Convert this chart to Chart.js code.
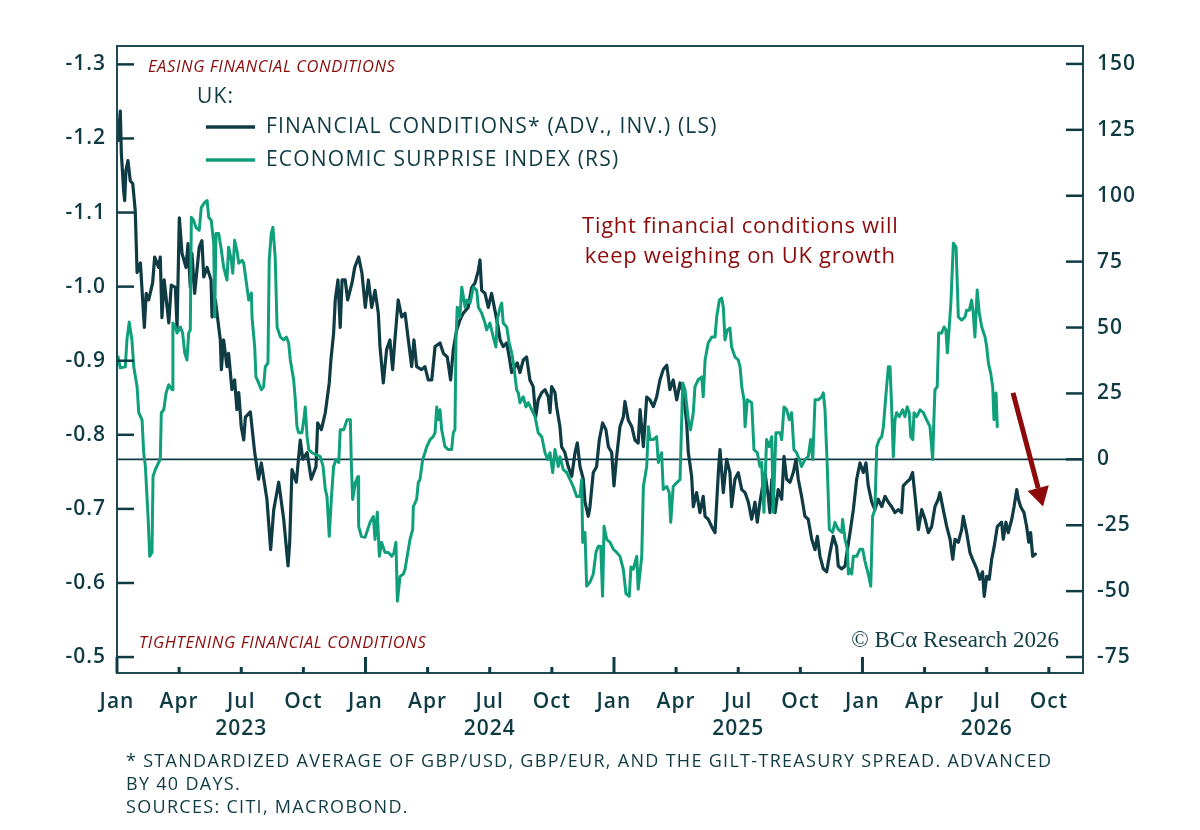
<!DOCTYPE html>
<html>
<head>
<meta charset="utf-8">
<script src="https://cdn.jsdelivr.net/npm/chart.js@4.4.1/dist/chart.umd.min.js"></script>
<style>
  html, body { margin: 0; padding: 0; background: #ffffff; }
  canvas { display: block; }
</style>
</head>
<body>
<canvas id="chart1" width="1200" height="830"></canvas>
<script>

  // x values are months counted from Jan 2023 (0 = Jan 2023)
  var fcMonths = [0.05,0.16,0.21,0.32,0.37,0.43,0.53,0.64,0.76,0.88,0.97,1.13,1.32,1.41,1.53,1.72,1.82,2.01,2.09,2.17,2.28,2.50,2.62,2.82,2.90,3.01,3.14,3.33,3.43,3.54,3.62,3.75,3.97,4.10,4.19,4.35,4.54,4.59,4.75,4.99,5.04,5.15,5.31,5.39,5.55,5.68,5.79,5.88,6.00,6.12,6.20,6.44,6.65,6.84,6.97,7.24,7.42,7.57,7.81,8.05,8.26,8.34,8.45,8.66,8.85,8.97,9.18,9.38,9.61,9.69,9.87,10.06,10.25,10.33,10.46,10.54,10.67,10.78,10.87,11.02,11.14,11.35,11.48,11.67,11.83,11.99,
    12.14,12.30,12.46,12.62,12.70,12.86,13.02,13.18,13.31,13.42,13.58,13.75,13.91,14.07,14.23,14.34,14.47,14.71,14.87,15.03,15.20,15.36,15.60,15.76,15.95,16.11,16.24,16.40,16.56,16.72,16.96,17.13,17.29,17.45,17.53,17.61,17.77,17.93,18.09,18.25,18.41,18.50,18.65,18.82,18.94,19.06,19.22,19.33,19.46,19.62,19.78,19.94,20.10,20.22,20.34,20.51,20.67,20.83,20.91,20.99,21.15,21.23,21.39,21.47,21.63,21.79,21.96,22.12,22.23,22.36,22.52,22.60,22.76,22.84,23.00,23.16,23.29,23.45,23.61,23.73,23.89,
    24.00,24.13,24.29,24.45,24.53,24.69,24.86,25.01,25.17,25.26,25.42,25.58,25.74,25.90,26.06,26.22,26.38,26.55,26.70,26.86,27.03,27.19,27.35,27.51,27.59,27.75,27.83,27.99,28.15,28.31,28.40,28.55,28.72,28.88,29.04,29.12,29.28,29.44,29.60,29.68,29.84,30.00,30.17,30.33,30.49,30.65,30.81,30.92,31.05,31.18,31.29,31.45,31.53,31.62,31.78,31.93,32.10,32.21,32.34,32.50,32.66,32.79,32.90,33.06,33.22,33.38,33.55,33.71,33.82,33.95,34.11,34.27,34.43,34.59,34.75,34.83,35.00,35.16,35.27,35.40,35.56,35.72,35.88,
    36.04,36.17,36.28,36.45,36.60,36.76,36.93,37.09,37.25,37.41,37.57,37.73,37.89,37.97,38.13,38.29,38.42,38.54,38.70,38.86,39.02,39.18,39.34,39.50,39.66,39.74,39.90,40.07,40.23,40.36,40.47,40.63,40.79,40.87,41.03,41.19,41.32,41.52,41.67,41.80,41.88,42.00,42.12,42.24,42.36,42.51,42.72,42.80,42.93,43.04,43.21,43.32,43.45,43.53,43.64,43.80,43.93,44.03,44.12,44.22,44.35]

  var fcValues = [-1.197,-1.237,-1.180,-1.130,-1.116,-1.157,-1.170,-1.143,-1.139,-1.103,-1.019,-1.032,-0.945,-0.991,-0.982,-1.005,-1.040,-1.026,-1.040,-0.958,-1.009,-0.951,-1.002,-0.999,-0.945,-1.093,-1.045,-1.026,-1.058,-0.999,-1.045,-0.991,-1.053,-1.062,-1.013,-1.026,-1.009,-0.959,-0.982,-0.928,-0.888,-0.928,-0.892,-0.910,-0.861,-0.874,-0.834,-0.857,-0.811,-0.793,-0.824,-0.831,-0.776,-0.740,-0.762,-0.713,-0.645,-0.699,-0.736,-0.686,-0.623,-0.655,-0.753,-0.736,-0.793,-0.767,-0.776,-0.740,-0.757,-0.816,-0.807,-0.830,-0.870,-0.901,-0.937,-0.982,-1.009,-0.945,-1.009,-1.009,-0.982,-1.005,-1.026,-1.040,-1.018,-0.972,
    -1.009,-0.972,-0.995,-0.964,-0.919,-0.870,-0.915,-0.928,-0.888,-0.928,-0.982,-0.959,-0.964,-0.928,-0.892,-0.928,-0.892,-0.888,-0.892,-0.874,-0.874,-0.919,-0.924,-0.910,-0.905,-0.874,-0.915,-0.941,-0.955,-0.964,-0.972,-0.999,-1.005,-1.022,-1.036,-0.995,-0.991,-0.972,-0.991,-0.968,-0.945,-0.928,-0.919,-0.924,-0.905,-0.884,-0.892,-0.897,-0.884,-0.901,-0.905,-0.874,-0.865,-0.824,-0.847,-0.857,-0.861,-0.851,-0.830,-0.865,-0.857,-0.838,-0.811,-0.784,-0.776,-0.757,-0.744,-0.776,-0.789,-0.757,-0.740,-0.709,-0.690,-0.703,-0.749,-0.757,-0.793,-0.816,-0.807,-0.784,-0.776,
    -0.731,-0.771,-0.811,-0.824,-0.845,-0.820,-0.811,-0.793,-0.789,-0.834,-0.784,-0.851,-0.847,-0.838,-0.851,-0.874,-0.888,-0.894,-0.861,-0.874,-0.847,-0.870,-0.857,-0.816,-0.776,-0.744,-0.703,-0.722,-0.695,-0.717,-0.690,-0.686,-0.676,-0.668,-0.749,-0.780,-0.722,-0.767,-0.749,-0.703,-0.740,-0.749,-0.726,-0.722,-0.709,-0.686,-0.709,-0.682,-0.709,-0.731,-0.749,-0.717,-0.695,-0.740,-0.695,-0.726,-0.713,-0.771,-0.740,-0.736,-0.749,-0.767,-0.740,-0.717,-0.690,-0.686,-0.659,-0.645,-0.663,-0.636,-0.619,-0.615,-0.641,-0.663,-0.649,-0.623,-0.619,-0.623,-0.645,-0.668,-0.699,-0.740,-0.762,
    -0.749,-0.762,-0.731,-0.709,-0.699,-0.713,-0.703,-0.717,-0.709,-0.703,-0.695,-0.699,-0.695,-0.731,-0.736,-0.740,-0.749,-0.717,-0.672,-0.699,-0.686,-0.668,-0.676,-0.703,-0.713,-0.722,-0.699,-0.676,-0.659,-0.632,-0.659,-0.655,-0.672,-0.690,-0.668,-0.641,-0.632,-0.619,-0.605,-0.615,-0.582,-0.609,-0.605,-0.632,-0.649,-0.676,-0.682,-0.659,-0.682,-0.668,-0.686,-0.703,-0.726,-0.713,-0.703,-0.695,-0.676,-0.655,-0.668,-0.636,-0.639]

  var esiMonths = [0.05,0.16,0.40,0.48,0.59,0.72,0.81,0.97,1.05,1.21,1.29,1.37,1.50,1.58,1.69,1.74,1.85,2.01,2.09,2.14,2.26,2.37,2.50,2.66,2.70,2.82,2.90,3.06,3.17,3.27,3.38,3.46,3.54,3.59,3.70,3.81,3.97,4.07,4.24,4.35,4.43,4.55,4.67,4.72,4.78,4.91,5.04,5.15,5.31,5.39,5.52,5.59,5.68,5.79,5.88,6.04,6.12,6.23,6.36,6.49,6.52,6.65,6.71,6.84,6.97,7.08,7.16,7.29,7.35,7.45,7.53,7.64,7.73,7.89,8.05,8.18,8.29,8.37,8.53,8.61,8.69,8.77,8.93,9.02,9.09,9.18,9.26,9.42,9.61,9.82,9.95,10.06,10.14,10.25,10.35,10.46,10.58,10.71,10.78,10.95,11.11,11.27,11.31,11.38,11.51,11.64,11.67,11.80,11.98,
    12.22,12.38,12.46,12.57,12.67,12.78,12.94,13.10,13.27,13.38,13.47,13.54,13.67,13.83,13.91,14.07,14.15,14.28,14.31,14.47,14.55,14.63,14.76,14.87,14.96,15.12,15.27,15.36,15.44,15.52,15.60,15.68,15.84,16.00,16.16,16.24,16.32,16.37,16.43,16.56,16.65,16.81,16.89,17.05,17.21,17.37,17.45,17.61,17.77,17.85,18.01,18.17,18.30,18.36,18.50,18.58,18.65,18.82,18.94,19.06,19.17,19.30,19.38,19.46,19.62,19.75,19.86,20.03,20.19,20.34,20.51,20.67,20.80,20.91,21.04,21.15,21.31,21.39,21.55,21.72,21.88,22.03,22.20,22.36,22.44,22.49,22.60,22.68,22.84,23.00,23.13,23.24,23.36,23.45,23.52,23.65,23.81,23.97,
    24.13,24.29,24.45,24.58,24.74,24.82,24.93,25.10,25.17,25.34,25.42,25.58,25.66,25.74,25.90,26.06,26.14,26.30,26.38,26.55,26.67,26.74,26.86,27.03,27.19,27.32,27.43,27.59,27.70,27.83,27.91,28.07,28.24,28.31,28.40,28.55,28.72,28.88,28.96,29.09,29.20,29.28,29.36,29.47,29.60,29.68,29.84,30.00,30.09,30.17,30.28,30.33,30.44,30.65,30.76,30.92,31.05,31.13,31.24,31.37,31.50,31.62,31.69,31.82,32.02,32.10,32.21,32.34,32.47,32.58,32.69,32.82,32.95,33.06,33.22,33.38,33.50,33.60,33.71,33.87,34.03,34.11,34.19,34.30,34.40,34.56,34.67,34.83,35.00,35.04,35.16,35.27,35.32,35.40,35.48,35.56,35.72,35.88,
    36.01,36.12,36.28,36.40,36.49,36.60,36.69,36.81,36.93,37.01,37.14,37.25,37.33,37.41,37.49,37.57,37.65,37.78,37.94,38.05,38.16,38.26,38.33,38.43,38.49,38.62,38.78,38.94,39.10,39.26,39.39,39.45,39.50,39.61,39.68,39.82,39.94,40.03,40.10,40.19,40.27,40.39,40.52,40.63,40.79,40.95,41.03,41.16,41.27,41.35,41.43,41.54,41.64,41.76,41.92,42.00,42.08,42.19,42.29,42.35,42.45,42.51]

  var esiValues = [38.9,34.7,35.1,45.3,52.1,45.3,35.1,27.5,17.7,15.0,2.5,-2.7,-21.7,-36.8,-35.3,-6.5,-3.9,-1.2,-0.1,17.7,18.8,25.2,28.3,26.4,51.7,50.2,47.9,50.2,47.9,40.4,37.7,47.9,49.1,91.8,90.7,88.0,86.9,95.6,97.5,98.2,91.8,90.7,82.0,54.0,85.7,85.7,79.3,72.9,68.0,80.5,75.5,70.6,83.1,79.3,74.4,75.5,74.4,68.0,60.4,63.1,54.0,42.6,31.3,29.0,26.4,27.5,35.1,36.6,75.5,85.7,88.0,76.6,50.2,46.4,45.3,46.4,44.1,37.7,30.2,22.6,12.4,10.1,10.1,15.0,19.9,8.6,3.7,2.5,1.8,1.0,-2.7,-11.4,-14.1,-29.2,-15.2,-2.7,-0.1,-1.2,11.2,11.2,15.0,15.0,-0.1,-15.2,-8.8,-6.5,-25.4,-29.2,-29.6,
    -23.9,-21.7,-30.4,-20.1,-36.8,-31.5,-35.3,-35.3,-36.8,-35.3,-31.5,-53.8,-44.4,-43.5,-41.7,-34.1,-30.4,-26.6,-17.9,-15.2,-8.8,-7.7,-0.1,2.5,4.8,7.5,8.6,10.1,19.9,15.0,18.8,11.2,4.8,3.7,3.7,10.1,11.2,45.3,57.7,54.0,65.3,57.7,60.4,59.3,65.3,64.2,57.7,55.5,51.7,49.1,51.7,46.4,42.6,52.8,57.7,59.3,51.7,50.2,44.1,40.4,35.1,26.4,25.2,21.5,23.7,19.9,21.5,18.8,16.2,10.1,8.6,2.5,-0.1,2.5,-5.0,3.7,-2.7,1.0,-3.9,-5.0,-7.7,-10.3,-14.1,-14.1,-7.7,-31.5,-27.7,-48.1,-46.6,-43.5,-35.3,-33.0,-33.0,-51.9,-25.4,-30.4,-31.5,-34.1,
    -35.3,-36.8,-41.7,-51.0,-51.9,-40.8,-41.7,-36.8,-49.3,-36.8,-10.3,-2.7,12.4,7.5,7.5,8.6,-1.2,2.5,-11.4,-10.3,-12.6,-23.9,-10.3,-8.8,-7.7,29.0,26.4,15.0,11.2,17.7,27.5,30.2,31.3,23.7,37.7,44.1,46.4,46.4,54.0,60.4,61.2,57.7,45.3,49.1,49.8,42.6,38.9,37.7,35.1,27.5,22.6,12.4,22.6,21.5,3.7,2.5,-2.7,-1.2,-20.1,7.5,4.8,8.6,-20.1,10.1,10.1,7.5,19.9,18.8,15.0,17.7,3.7,2.5,-0.1,-2.7,-0.1,1.0,7.5,-0.1,22.6,22.6,23.7,25.2,18.8,-2.7,-26.6,-27.7,-23.9,-26.6,-27.7,-22.8,-30.4,-34.1,-43.5,-41.7,-43.5,-36.8,-36.8,-34.1,
    -34.1,-38.6,-43.5,-48.1,-21.7,-19.0,4.8,7.5,8.6,12.4,25.2,35.1,35.1,19.9,1.0,15.0,17.7,16.2,18.8,16.2,19.9,17.7,8.6,7.5,17.7,16.2,18.8,17.7,15.0,12.4,-0.1,15.0,26.4,27.5,47.9,47.9,50.2,49.1,40.4,50.2,59.3,82.0,80.5,54.0,52.8,54.0,56.6,56.6,60.4,55.5,46.4,64.2,55.5,50.2,46.4,42.6,36.6,32.8,27.5,15.0,25.2,12.4]

  var leftTicks = [-1.3, -1.2, -1.1, -1.0, -0.9, -0.8, -0.7, -0.6, -0.5]
  var rightTicks = [150, 125, 100, 75, 50, 25, 0, -25, -50, -75]
  var monthTicks = [0, 3, 6, 9, 12, 15, 18, 21, 24, 27, 30, 33, 36, 39, 42, 45]
  var monthNames = ['Jan', 'Apr', 'Jul', 'Oct']
  var firstYear = 2023

  var INK = '#0f3b44'
  var GREEN = '#0fa07b'
  var RED = '#8c0a0a'
  var SANS = '"Open Sans", "Noto Sans", sans-serif'

  function pontos(xs, ys) {
    return xs.map(function (x, i) { return { x: x, y: ys[i] } })
  }

  function linha(ctx, x1, y1, x2, y2) {
    ctx.beginPath()
    ctx.moveTo(x1, y1)
    ctx.lineTo(x2, y2)
    ctx.stroke()
  }

  // moldura, ticks para dentro, linha do zero e textos
  const decoracao = {
    id: 'decoracao',
    beforeDraw(chart) {
      // espaçamento das letras dos rótulos dos eixos
      chart.ctx.letterSpacing = '1px'
    },
    beforeDatasetsDraw(chart) {
      const { ctx, chartArea: a, scales } = chart
      ctx.letterSpacing = '0px'
      const y0 = scales.yR.getPixelForValue(0)
      ctx.save()
      ctx.strokeStyle = INK
      ctx.lineWidth = 1.6
      linha(ctx, a.left, y0, a.right, y0)
      ctx.restore()
    },
    afterDatasetsDraw(chart) {
      const { ctx, chartArea: a, scales } = chart
      ctx.save()
      ctx.strokeStyle = '#1f4a53'
      ctx.lineWidth = 2
      ctx.strokeRect(a.left, a.top, a.right - a.left, a.bottom - a.top)

      ctx.strokeStyle = INK
      ctx.lineWidth = 2.5
      leftTicks.forEach(function (v) {
        const y = scales.yL.getPixelForValue(v)
        linha(ctx, a.left, y, a.left + 17, y)
      })
      rightTicks.forEach(function (v) {
        const y = scales.yR.getPixelForValue(v)
        linha(ctx, a.right - 17, y, a.right, y)
      })
      ctx.lineWidth = 3
      monthTicks.forEach(function (m) {
        const x = scales.x.getPixelForValue(m)
        const len = (m % 12 === 0) ? 16 : 6
        linha(ctx, x, a.bottom, x, a.bottom - len)
      })
      ctx.restore()
    },
    afterDraw(chart) {
      const { ctx, scales } = chart
      ctx.save()
      ctx.textBaseline = 'middle'

      // rótulos em vermelho
      ctx.fillStyle = RED
      ctx.font = 'italic 16.5px ' + SANS
      ctx.letterSpacing = '0.6px'
      ctx.textAlign = 'left'
      ctx.fillText('EASING FINANCIAL CONDITIONS', 148, 67)
      ctx.fillText('TIGHTENING FINANCIAL CONDITIONS', 139, 643)

      // legenda
      ctx.fillStyle = INK
      ctx.font = '21px ' + SANS
      ctx.letterSpacing = '1.2px'
      ctx.fillText('UK:', 197, 97)
      ctx.fillText('FINANCIAL CONDITIONS* (ADV., INV.) (LS)', 266, 127)
      ctx.fillText('ECONOMIC SURPRISE INDEX (RS)', 266, 160)
      ctx.lineWidth = 3.5
      ctx.strokeStyle = INK
      linha(ctx, 206, 127, 255, 127)
      ctx.strokeStyle = GREEN
      linha(ctx, 206, 160, 255, 160)

      // anotação
      ctx.fillStyle = RED
      ctx.font = '22px ' + SANS
      ctx.letterSpacing = '0.7px'
      ctx.textAlign = 'center'
      const ax = scales.x.getPixelForValue(30.1)
      ctx.fillText('Tight financial conditions will', ax, scales.yR.getPixelForValue(88.4))
      ctx.fillText('keep weighing on UK growth', ax, scales.yR.getPixelForValue(77.0))

      // seta
      const x1 = scales.x.getPixelForValue(43.27), y1 = scales.yR.getPixelForValue(25.2)
      const x2 = scales.x.getPixelForValue(44.72), y2 = scales.yR.getPixelForValue(-17.9)
      const ang = Math.atan2(y2 - y1, x2 - x1)
      const cab = 19, meia = 11
      const bx = x2 - cab * Math.cos(ang), by = y2 - cab * Math.sin(ang)
      ctx.strokeStyle = RED
      ctx.lineWidth = 5
      linha(ctx, x1, y1, bx, by)
      ctx.beginPath()
      ctx.moveTo(x2, y2)
      ctx.lineTo(bx + meia * Math.sin(ang), by - meia * Math.cos(ang))
      ctx.lineTo(bx - meia * Math.sin(ang), by + meia * Math.cos(ang))
      ctx.closePath()
      ctx.fill()

      // copyright
      ctx.fillStyle = INK
      ctx.textAlign = 'right'
      ctx.letterSpacing = '0px'
      ctx.font = '23px "Liberation Serif", "DejaVu Serif", serif'
      ctx.fillText('\u00A9 BC\u03B1 Research 2026', 1059, 641)

      // notas
      ctx.textAlign = 'left'
      ctx.font = '18px ' + SANS
      ctx.letterSpacing = '1.3px'
      ctx.fillText('* STANDARDIZED AVERAGE OF GBP/USD, GBP/EUR, AND THE GILT-TREASURY SPREAD. ADVANCED', 126, 762)
      ctx.fillText('BY 40 DAYS.', 126, 785)
      ctx.fillText('SOURCES: CITI, MACROBOND.', 126, 808)
      ctx.restore()
      ctx.letterSpacing = '0px'
    }
  }

  const data = {
    datasets: [{
      label: 'FINANCIAL CONDITIONS* (ADV., INV.) (LS)',
      data: pontos(fcMonths, fcValues),
      yAxisID: 'yL',
      borderColor: INK,
      borderWidth: 3.2,
      order: 1
    },
    {
      label: 'ECONOMIC SURPRISE INDEX (RS)',
      data: pontos(esiMonths, esiValues),
      yAxisID: 'yR',
      borderColor: GREEN,
      borderWidth: 3,
      order: 0
    }]
  }

  const tickFont = { family: SANS, size: 21, weight: '600' }

  const config = {
    type: 'line',
    data,
    plugins: [decoracao],
    options: {
      responsive: false,
      animation: false,
      devicePixelRatio: 1,
      layout: { padding: { top: 46, left: 0, right: 0, bottom: 0 } },
      elements: {
        point: { radius: 0 },
        line: { tension: 0, borderJoinStyle: 'round', borderCapStyle: 'round' }
      },
      plugins: { legend: { display: false }, tooltip: { enabled: false } },
      scales: {
        x: {
          type: 'linear',
          min: 0,
          max: 46.65,
          grid: { display: false, drawTicks: false },
          border: { display: false },
          afterBuildTicks: function (s) { s.ticks = monthTicks.map(function (v) { return { value: v } }) },
          afterFit: function (s) { s.height = 157 },
          ticks: {
            padding: 15,
            maxRotation: 0,
            autoSkip: false,
            color: INK,
            font: { family: SANS, size: 21, weight: '600', lineHeight: 1.3 },
            callback: function (v) {
              const nome = monthNames[(v % 12) / 3]
              if (v % 12 === 6) return [nome, String(firstYear + Math.floor(v / 12))]
              return nome
            }
          }
        },
        yL: {
          position: 'left',
          reverse: true,
          min: -1.3248,
          max: -0.4785,
          grid: { display: false, drawTicks: false },
          border: { display: false },
          afterBuildTicks: function (s) { s.ticks = leftTicks.map(function (v) { return { value: v } }) },
          afterFit: function (s) { s.width = 117 },
          ticks: {
            padding: 11,
            color: INK,
            font: tickFont,
            callback: function (v) { return v.toFixed(1) }
          }
        },
        yR: {
          position: 'right',
          min: -81.05,
          max: 156.8,
          grid: { display: false, drawTicks: false },
          border: { display: false },
          afterBuildTicks: function (s) { s.ticks = rightTicks.map(function (v) { return { value: v } }) },
          afterFit: function (s) { s.width = 117 },
          ticks: {
            padding: 14,
            color: INK,
            font: tickFont,
            callback: function (v) { return String(v) }
          }
        }
      }
    }
  }

  const myChart = new Chart(
    document.getElementById('chart1'),
    config
  )

</script>
</body>
</html>
